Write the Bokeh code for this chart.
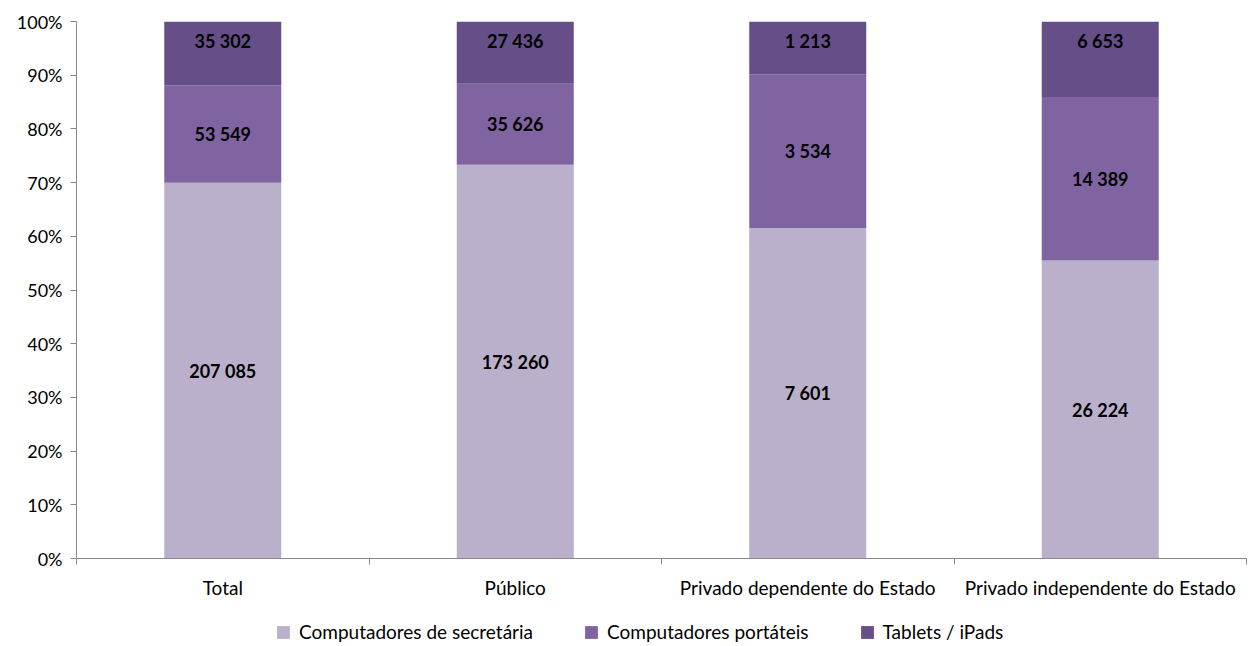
from bokeh.plotting import figure
from bokeh.layouts import column
from bokeh.models import ColumnDataSource, FixedTicker, NumeralTickFormatter, Legend, LegendItem, Range1d
from bokeh.core.properties import value
from bokeh.embed import file_html
from bokeh.resources import INLINE

categories = ["Total", "Público", "Privado dependente do Estado", "Privado independente do Estado"]
series = ["Computadores de secretária", "Computadores portáteis", "Tablets / iPads"]
desktop = [207085, 173260, 7601, 26224]
laptop = [53549, 35626, 3534, 14389]
tablet = [35302, 27436, 1213, 6653]
colors = ["#BAB0CB", "#8064A2", "#664F88"]

FONT = "Lato"

def fmt(v):
    return f"{v:,}".replace(",", " ")

xs = [i + 0.5 for i in range(len(categories))]
tot = [a + b + c for a, b, c in zip(desktop, laptop, tablet)]
f1 = [a / t for a, t in zip(desktop, tot)]
f2 = [b / t for b, t in zip(laptop, tot)]
f3 = [c / t for c, t in zip(tablet, tot)]

src = ColumnDataSource(dict(x=xs, s1=f1, s2=f2, s3=f3))

p = figure(width=1248, height=616,
           output_backend="svg", toolbar_location=None,
           x_range=Range1d(0, 4), y_range=Range1d(0, 1),
           min_border_left=76, min_border_right=2, min_border_top=21, min_border_bottom=58)
p.outline_line_color = None
p.grid.visible = False

rs = p.vbar_stack(["s1", "s2", "s3"], x="x", width=0.4, color=colors, source=src, line_color=None)

# labels of the two lower segments, centred in their segments
lx, ly, lt = [], [], []
for i in range(4):
    base = 0
    for frac, vals in ((f1, desktop), (f2, laptop)):
        lx.append(xs[i]); ly.append(base + frac[i] / 2); lt.append(fmt(vals[i]))
        base += frac[i]
p.text(x=lx, y=ly, text=lt, text_align="center", text_baseline="middle",
       text_font=value(FONT), text_font_style="bold", text_font_size="18px", text_color="#000000")
# labels of the top segment, near the top of the bars
p.text(x=xs, y=[1] * len(xs), text=[fmt(v) for v in tablet], text_align="center",
       text_baseline="middle", y_offset=19,
       text_font=value(FONT), text_font_style="bold", text_font_size="18px", text_color="#000000")

xa = p.xaxis[0]
xa.ticker = FixedTicker(ticks=xs, minor_ticks=[0, 1, 2, 3, 4])
xa.major_label_overrides = {x: c for x, c in zip(xs, categories)}
xa.major_tick_out = 0
xa.major_tick_in = 0
xa.minor_tick_out = 6
xa.minor_tick_in = 0
xa.minor_tick_line_color = "#898989"
xa.axis_line_color = "#898989"
xa.major_label_text_font = FONT
xa.major_label_text_font_size = "19px"
xa.major_label_text_color = "#000000"
xa.major_label_standoff = 11

ya = p.yaxis[0]
ya.ticker = FixedTicker(ticks=[i / 10 for i in range(11)])
ya.formatter = NumeralTickFormatter(format="0%")
ya.major_tick_out = 6
ya.major_tick_in = 0
ya.minor_tick_line_color = None
ya.major_tick_line_color = "#898989"
ya.axis_line_color = "#898989"
ya.major_label_text_font = FONT
ya.major_label_text_font_size = "18px"
ya.major_label_text_color = "#000000"
ya.major_label_standoff = 8

# legend strip
q = figure(width=1248, height=30, output_backend="svg", toolbar_location=None,
           x_range=Range1d(0, 1), y_range=Range1d(0, 1),
           x_axis_location=None, y_axis_location=None,
           min_border_left=0, min_border_right=0, min_border_top=0, min_border_bottom=0)
q.grid.visible = False
q.outline_line_color = None
lrs = [q.vbar(x=[0.5], top=[0], bottom=[0], width=0.0, color=c, line_color=None) for c in colors]
legend = Legend(items=[LegendItem(label=s, renderers=[r]) for s, r in zip(series, lrs)],
                orientation="horizontal", location=(199, 3),
                label_text_font=FONT, label_text_font_size="19px", label_text_color="#000000",
                glyph_width=16, glyph_height=16, spacing=50, label_standoff=8,
                border_line_color=None, background_fill_alpha=0, padding=0, margin=0)
q.add_layout(legend, "center")

layout = column(p, q, spacing=0)
open("out.html", "w").write(file_html(layout, INLINE))
